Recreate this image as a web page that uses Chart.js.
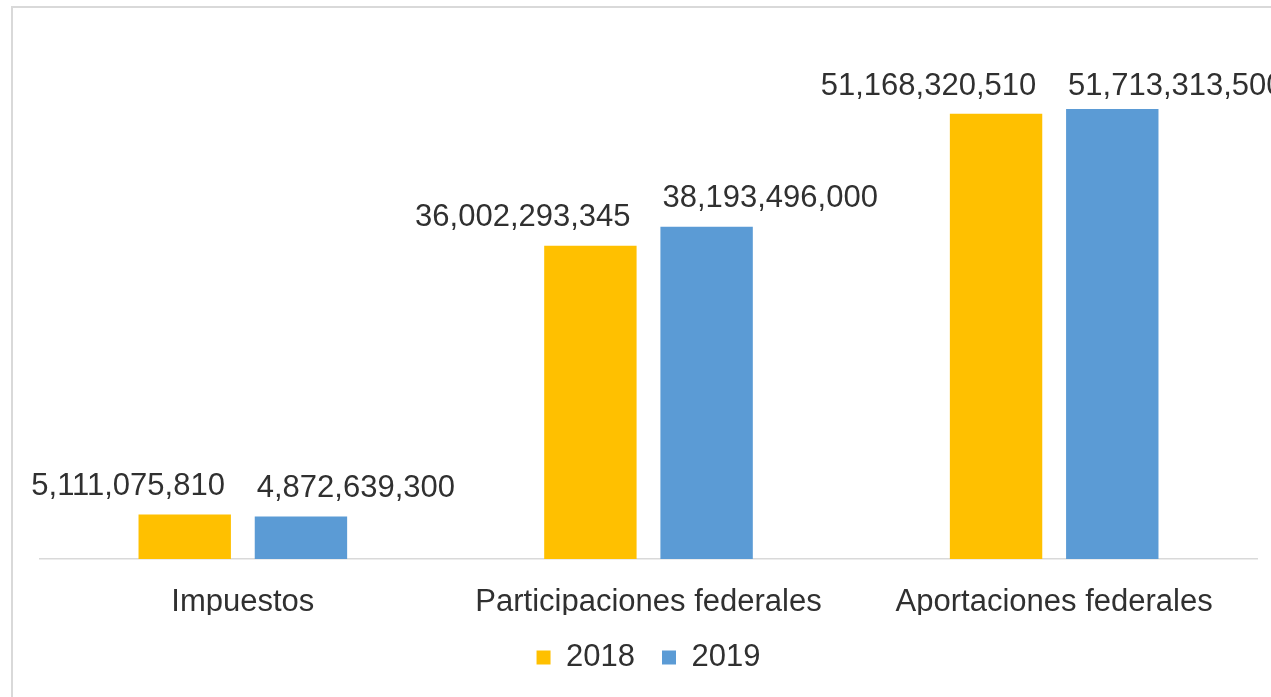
<!DOCTYPE html>
<html>
<head>
<meta charset="utf-8">
<script src="https://cdn.jsdelivr.net/npm/chart.js@4.4.1/dist/chart.umd.min.js"></script>
<style>
  html, body { margin: 0; padding: 0; background: #fff; overflow: hidden; }
  #frame {
    position: absolute; left: 11px; top: 6px; width: 1400px; height: 800px;
    border-left: 2px solid #d9d9d9; border-top: 2px solid #d9d9d9;
  }
  #chart { position: absolute; left: 0; top: 0; }
</style>
</head>
<body>
<div id="frame"></div>
<canvas id="chart" width="1271" height="697"></canvas>
<script>
  // categorias y valores
  var categories = ['Impuestos', 'Participaciones federales', 'Aportaciones federales'];
  var seriesNames = ['2018', '2019'];
  var values2018 = [5111075810, 36002293345, 51168320510];
  var values2019 = [4872639300, 38193496000, 51713313500];

  var textColor = '#303030';
  var fontFamily = '"Liberation Sans", Arial, sans-serif';

  // etiquetas de datos encima de las barras
  var barLabels = {
    id: 'barLabels',
    afterDatasetsDraw: function (chart) {
      let ctx = chart.ctx;
      ctx.save();
      ctx.font = '31px ' + fontFamily;
      ctx.fillStyle = textColor;
      ctx.textBaseline = 'alphabetic';
      chart.data.datasets.forEach((ds, di) => {
        let meta = chart.getDatasetMeta(di);
        meta.data.forEach((bar, i) => {
          let text = ds.data[i].toLocaleString('en-US');
          let x, y;
          if (di === 0) {
            ctx.textAlign = 'right';
            x = bar.x + bar.width / 2 - 6;
          } else {
            ctx.textAlign = 'left';
            x = bar.x - bar.width / 2 + 2;
          }
          y = Math.max(bar.y - 20, chart.chartArea.top + 58);
          ctx.fillText(text, x, y);
        });
      });
      ctx.restore();
    }
  };

  var config = {
    type: 'bar',
    data: {
      labels: categories,
      datasets: [{
        label: seriesNames[0],
        data: values2018,
        backgroundColor: '#FFC000'
      }, {
        label: seriesNames[1],
        data: values2019,
        backgroundColor: '#5B9BD5'
      }]
    },
    options: {
      responsive: false,
      animation: false,
      categoryPercentage: 0.573,
      barPercentage: 0.795,
      layout: {
        padding: { left: 40, right: 14, top: 37, bottom: 14 }
      },
      scales: {
        x: {
          grid: { display: false, drawTicks: false },
          border: { display: true, color: '#d9d9d9', width: 1.5 },
          ticks: {
            color: textColor,
            padding: 25,
            font: { family: fontFamily, size: 31 }
          },
          afterFit: function (scale) { scale.height = 56; }
        },
        y: {
          display: false,
          min: 0,
          max: 60000000000
        }
      },
      plugins: {
        legend: {
          position: 'bottom',
          labels: {
            color: textColor,
            boxWidth: 14,
            boxHeight: 14,
            padding: 27,
            font: { family: fontFamily, size: 31 }
          }
        },
        tooltip: { enabled: false }
      }
    },
    plugins: [barLabels]
  };

  let ctx = document.getElementById('chart').getContext('2d');
  let chart = new Chart(ctx, config);
</script>
</body>
</html>
